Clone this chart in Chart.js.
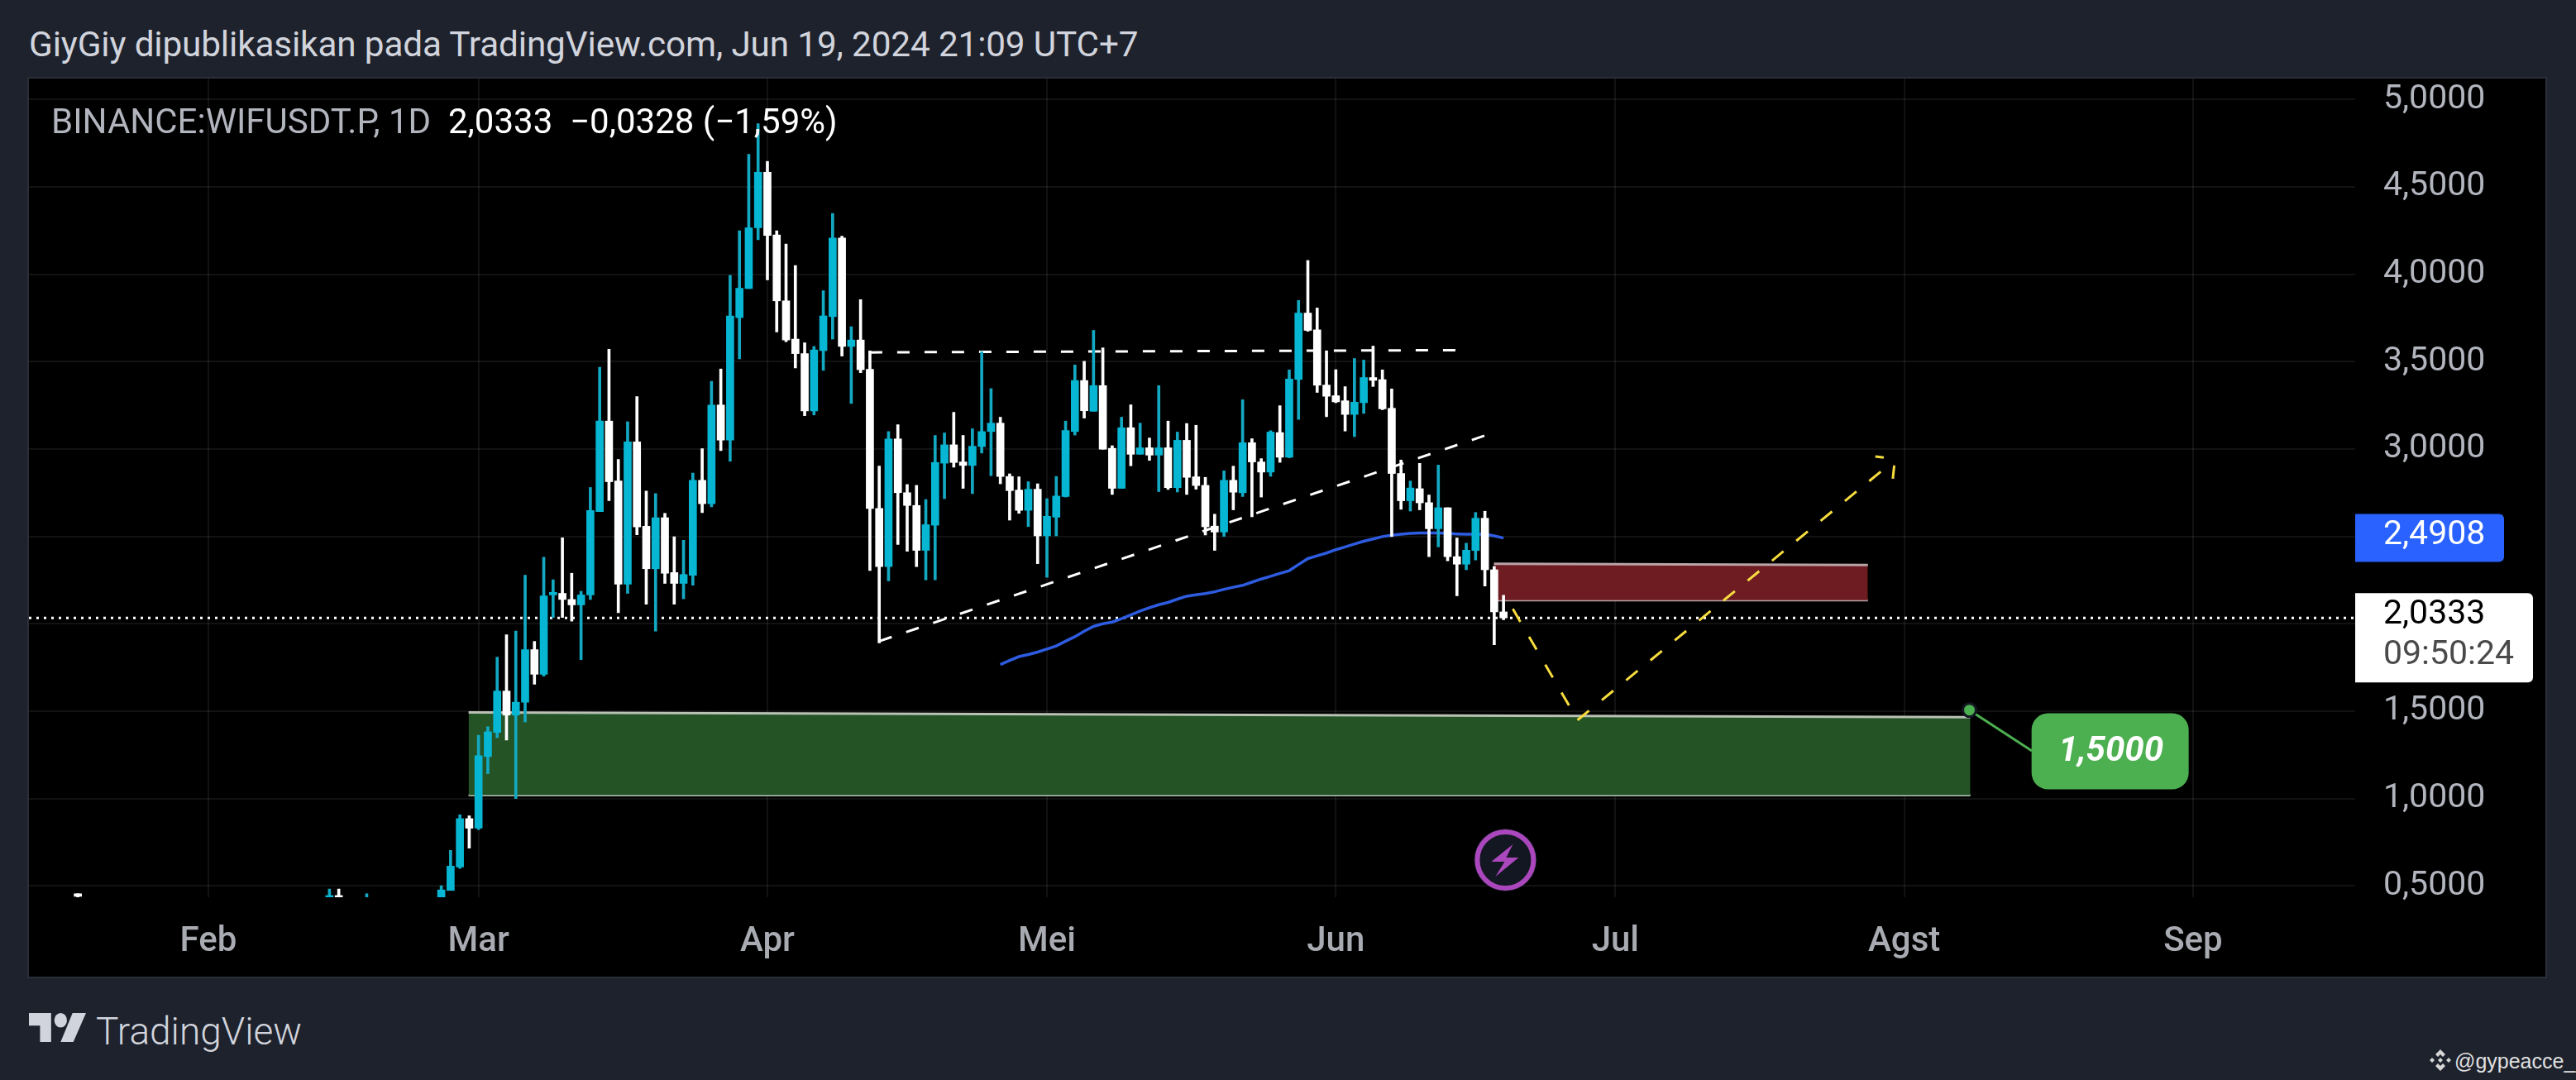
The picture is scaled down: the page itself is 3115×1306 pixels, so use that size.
<!DOCTYPE html>
<html>
<head>
<meta charset="utf-8">
<title>WIFUSDT.P</title>
<script src="https://cdn.jsdelivr.net/npm/chart.js@4/dist/chart.umd.js"></script>
<style>
  html, body { margin: 0; padding: 0; background: #1e222d; width: 3115px; height: 1306px; overflow: hidden; font-family: Roboto, sans-serif; }
  .abs { position: absolute; white-space: pre; }
  #panel { position: absolute; left: 33px; top: 93px; width: 3043px; height: 1086px; border: 2px solid #2a2e39; background: #000; }
  #chart { display: block; }
  #title { left: 35px; top: 30px; font-size: 42.3px; line-height: 48px; color: #d1d4dc; letter-spacing: -0.15px; }
  #legend { left: 62px; top: 123px; font-size: 42px; line-height: 48px; color: #b2b5be; }
  #legend b { font-weight: 400; color: #fff; }
  #tvlogo { left: 35px; top: 1225px; }
  #tvtext { left: 116px; top: 1219px; font-size: 46px; line-height: 56px; color: #d1d4dc; font-weight: 300; }
  #bnb { left: 2937px; top: 1268px; }
  #handle { left: 2968px; top: 1266px; font-family: "Liberation Sans", sans-serif; font-size: 25px; line-height: 34px; color: #e0e0e0; }
</style>
</head>
<body>
<div class="abs" id="title">GiyGiy dipublikasikan pada TradingView.com, Jun 19, 2024 21:09 UTC+7</div>
<div id="panel"><canvas id="chart" width="3043" height="1086"></canvas></div>
<div class="abs" id="legend">BINANCE:WIFUSDT.P, 1D  <b>2,0333  −0,0328 (−1,59%)</b></div>
<svg class="abs" id="tvlogo" width="69" height="35" viewBox="0 6 36 16" preserveAspectRatio="none"><path fill="#d1d4dc" d="M14 6H0v7h7v9h7V6zM28 22h-8l7.5-16H36l-8 16z"/><circle fill="#d1d4dc" cx="20" cy="10" r="4"/></svg>
<div class="abs" id="tvtext">TradingView</div>
<svg class="abs" id="bnb" width="28" height="28" viewBox="0 0 28 28"><path fill="#d6d6d6" d="M14 1l6 6-3 3-3-3-3 3-3-3zM14 27l-6-6 3-3 3 3 3-3 3 3zM4 11l3 3-3 3-3-3zM24 11l3 3-3 3-3-3zM14 11l3 3-3 3-3-3z"/></svg>
<div class="abs" id="handle">@gypeacce_</div>

<script>
// All x values are days counted from 1 Jan 2024 (0 = Jan 1, 170 = Jun 19)
var xTicks = [31, 60, 91, 121, 152, 182, 213, 244];
var xTickLabels = ['Feb', 'Mar', 'Apr', 'Mei', 'Jun', 'Jul', 'Agst', 'Sep'];
var yTicks = [0.5, 1, 1.5, 2, 2.5, 3, 3.5, 4, 4.5, 5];
var yTickLabels = ['0,5000', '1,0000', '1,5000', '', '', '3,0000', '3,5000', '4,0000', '4,5000', '5,0000'];
var xMin = 11.75, xMax = 261.4;
var yMin = 0.435, yMax = 5.12;

var candleDays = [17,44,45,48,
  56,57,58,59,60,61,62,63,64,65,
  66,67,68,69,70,71,72,73,74,75,
  76,77,78,79,80,81,82,83,84,85,
  86,87,88,89,90,91,92,93,94,95,
  96,97,98,99,100,101,102,103,104,105,
  106,107,108,109,110,111,112,113,114,115,
  116,117,118,119,120,121,122,123,124,125,
  126,127,128,129,130,131,132,133,134,135,
  136,137,138,139,140,141,142,143,144,145,
  146,147,148,149,150,151,152,153,154,155,
  156,157,158,159,160,161,162,163,164,165,
  166,167,168,169,170];
var opens = [.455,.43,.445,.43,
  .43,.474,.608,.885,.83,1.24,1.378,1.615,1.477,1.551,
  1.852,1.711,2.165,2.174,2.139,2.108,2.165,2.642,3.16,2.817,
  2.227,3.041,2.558,2.315,2.607,2.293,2.231,2.278,2.821,2.687,
  3.252,3.051,3.752,3.918,4.266,4.584,4.225,3.848,3.629,3.546,
  3.218,3.563,3.758,4.208,3.587,3.624,3.456,2.66,2.327,3.058,
  2.75,2.677,2.42,2.564,2.919,3.024,2.926,2.906,3.014,3.1,
  3.148,2.843,2.765,2.649,2.77,2.503,2.61,2.728,3.1,3.392,
  3.216,3.363,3.004,2.775,3.122,2.97,3.007,2.965,3.007,2.779,
  3.05,2.841,2.792,2.559,2.525,2.821,2.75,3.036,2.926,2.868,
  3.094,2.953,3.398,3.778,3.682,3.366,3.305,3.276,3.198,3.265,
  3.409,3.397,3.233,2.86,2.704,2.773,2.693,2.544,2.664,2.384,
  2.341,2.419,2.604,2.309,2.068];
var highs = [.455,.482,.482,.455,
  .501,.703,.907,.901,1.362,1.411,1.809,1.937,1.959,2.278,
  1.899,2.381,2.252,2.492,2.289,2.186,2.78,3.468,3.571,2.94,
  3.156,3.3,2.759,2.745,2.632,2.498,2.478,2.862,3.002,3.388,
  3.458,3.994,4.249,4.687,4.862,4.646,4.249,4.173,4.05,3.608,
  3.587,3.906,4.348,4.218,3.7,3.855,3.562,2.902,3.1,3.139,
  2.797,2.792,2.711,3.078,3.092,3.21,3.078,3.116,3.557,3.346,
  3.182,2.858,2.841,2.813,2.801,2.716,2.843,3.16,3.481,3.502,
  3.679,3.579,3.019,3.182,3.253,3.148,3.063,3.363,3.16,3.097,
  3.146,3.136,2.838,2.627,2.875,2.902,3.282,3.059,2.945,3.105,
  3.248,3.453,3.85,4.079,3.807,3.562,3.454,3.357,3.518,3.509,
  3.589,3.453,3.344,2.937,2.817,2.918,2.737,2.908,2.664,2.491,
  2.461,2.637,2.644,2.328,2.163];
var lows = [.435,.43,.43,.43,
  .43,.474,.6,.716,.822,1.142,1.348,1.335,1.0,1.438,
  1.654,1.7,2.036,2.036,2.015,1.795,2.139,2.642,2.704,2.063,
  2.174,2.509,2.112,1.958,2.231,2.112,2.143,2.221,2.636,2.669,
  2.991,2.93,3.516,3.918,4.198,3.968,3.67,3.614,3.464,3.191,
  3.195,3.45,3.629,3.532,3.261,3.437,2.305,1.89,2.246,2.454,
  2.415,2.327,2.251,2.251,2.716,2.896,2.775,2.745,2.977,2.847,
  2.801,2.593,2.632,2.556,2.344,2.266,2.503,2.725,3.08,3.177,
  3.216,2.999,2.74,2.775,2.904,2.97,2.935,2.757,2.769,2.754,
  2.74,2.77,2.508,2.42,2.5,2.652,2.728,2.612,2.725,2.844,
  2.924,2.95,3.169,3.674,3.324,3.185,3.265,3.103,3.071,3.204,
  3.358,3.225,2.499,2.655,2.645,2.652,2.384,2.44,2.36,2.16,
  2.309,2.365,2.216,1.88,2.023];
var closes = [.44,.445,.43,.432,
  .477,.613,.885,.83,1.245,1.382,1.615,1.477,1.551,1.852,
  1.711,2.16,2.18,2.139,2.108,2.165,2.648,3.16,2.813,2.227,
  3.041,2.554,2.315,2.607,2.289,2.231,2.282,2.821,2.687,3.252,
  3.051,3.762,3.92,4.266,4.584,4.222,3.848,3.624,3.546,3.218,
  3.567,3.762,4.208,3.587,3.624,3.454,2.66,2.327,3.058,2.75,
  2.677,2.42,2.567,2.923,3.024,2.923,2.906,3.016,3.1,3.148,
  2.843,2.762,2.649,2.77,2.503,2.615,2.731,3.106,3.392,3.219,
  3.363,2.999,2.775,3.122,2.97,3.007,2.965,3.007,2.779,3.05,
  2.838,2.791,2.555,2.525,2.821,2.753,3.036,2.926,2.868,3.097,
  2.953,3.401,3.778,3.679,3.365,3.302,3.27,3.198,3.268,3.409,
  3.393,3.23,2.86,2.704,2.777,2.692,2.544,2.664,2.384,2.341,
  2.421,2.604,2.309,2.068,2.0333];

// blue moving average, one value per day from maStartDay
var maStartDay = 116;
var maValues = [1.767,1.79,1.812,1.824,1.838,1.855,1.873,1.9,1.926,1.958,
  1.985,2.0,2.01,2.029,2.051,2.073,2.092,2.109,2.122,2.141,
  2.158,2.166,2.173,2.183,2.197,2.209,2.22,2.238,2.256,2.272,
  2.288,2.304,2.339,2.373,2.389,2.405,2.424,2.44,2.456,2.472,
  2.485,2.499,2.507,2.512,2.517,2.52,2.52,2.52,2.517,2.514,
  2.512,2.512,2.512,2.503,2.4908];

var lastPrice = 2.0333;
var lastPriceLabel = '2,0333';
var countdownLabel = '09:50:24';
var maLabel = '2,4908';

// drawings, [day, price] pairs
var topLine = [[102, 3.553], [164.95, 3.566]];
var riseLine = [[103, 1.9], [168.05, 3.078]];
var dropLeg = [[171, 2.085], [177.94, 1.449]];
var riseLeg = [[177.94, 1.449], [210.9, 2.889]];
var arrowBarbA = [[209.9, 2.957], [210.8, 2.951]];
var arrowBarbB = [[211.93, 2.906], [211.78, 2.83]];
var redTop = [[168.97, 2.343], [209.1, 2.336]];
var redBottom = [[168.97, 2.135], [209.1, 2.135]];
var greenTop = [[58.93, 1.493], [220.1, 1.466]];
var greenBottom = [[58.93, 1.019], [220.1, 1.019]];
var calloutLine = [[220, 1.506], [226.7, 1.273]];
var calloutCenter = [235.1, 1.27];
var calloutLabel = '1,5000';
var boltAnchor = [170.2, 0.648];

function pts(pairs) {
  return pairs.map(function(p){ return {x: p[0], y: p[1]}; });
}

function lineSet(pairs, color, width, dash, order, extra) {
  var ds = {
    type: 'line',
    data: pts(pairs),
    borderColor: color,
    borderWidth: width,
    borderDash: dash || [],
    pointRadius: 0,
    tension: 0,
    fill: false,
    order: order
  };
  for (var k in extra) ds[k] = extra[k];
  return ds;
}

var TEAL = '#06b6d2', TEAL_WICK = '#14a9c2', WHITE = '#ffffff';

var wicks = candleDays.map(function(d, i){ return {x: d, y: [lows[i], highs[i]]}; });
var bodies = candleDays.map(function(d, i){ return {x: d, y: [opens[i], closes[i]]}; });
var isUp = candleDays.map(function(d, i){ return closes[i] >= opens[i]; });
var maLine = maValues.map(function(v, i){ return [maStartDay + i, v]; });

// labels and icons that are not part of the library's datasets
var overlay = {
  id: 'overlay',
  afterDraw: function(chart) {
    var c = chart.ctx, sx = chart.scales.x, sy = chart.scales.y;
    var axisLeft = sx.right;
    c.save();
    c.textBaseline = 'middle';
    c.textAlign = 'left';

    // blue MA tag
    var my = sy.getPixelForValue(maValues[maValues.length - 1]);
    c.fillStyle = '#2962ff';
    c.beginPath();
    c.roundRect(axisLeft, my - 29, 180, 58, [0, 6, 6, 0]);
    c.fill();
    c.fillStyle = '#fff';
    c.font = '41px Roboto';
    c.fillText(maLabel, axisLeft + 34, my - 3);

    // last price tag with countdown
    var py = sy.getPixelForValue(lastPrice);
    c.fillStyle = '#fff';
    c.beginPath();
    c.roundRect(axisLeft, py - 30, 215, 108, [0, 6, 6, 0]);
    c.fill();
    c.fillStyle = '#000';
    c.fillText(lastPriceLabel, axisLeft + 34, py - 4);
    c.fillStyle = '#4a4a4a';
    c.fillText(countdownLabel, axisLeft + 34, py + 45);

    // callout anchor dot (a dataset point this big would make the chart pad its area)
    var ax = sx.getPixelForValue(calloutLine[0][0]), ay = sy.getPixelForValue(calloutLine[0][1]);
    c.beginPath();
    c.arc(ax, ay, 8, 0, Math.PI * 2);
    c.fillStyle = '#4caf50';
    c.fill();
    c.lineWidth = 3;
    c.strokeStyle = '#131722';
    c.stroke();

    // green callout
    var cx = sx.getPixelForValue(calloutCenter[0]), cy = sy.getPixelForValue(calloutCenter[1]);
    c.fillStyle = '#4caf50';
    c.beginPath();
    c.roundRect(cx - 95, cy - 46, 190, 92, 20);
    c.fill();
    c.fillStyle = '#fff';
    c.textAlign = 'center';
    c.font = 'italic 700 42px Roboto';
    c.fillText(calloutLabel, cx + 1, cy + 1);

    // lightning marker
    var bx = sx.getPixelForValue(boltAnchor[0]), by = sy.getPixelForValue(boltAnchor[1]);
    c.beginPath();
    c.arc(bx, by, 38, 0, Math.PI * 2);
    c.fillStyle = '#131722';
    c.fill();
    c.beginPath();
    c.arc(bx, by, 34, 0, Math.PI * 2);
    c.lineWidth = 6;
    c.strokeStyle = '#ab47bc';
    c.stroke();
    c.beginPath();
    c.moveTo(bx + 9, by - 19);
    c.lineTo(bx - 17, by + 2);
    c.lineTo(bx - 1, by + 2);
    c.lineTo(bx - 12, by + 20);
    c.lineTo(bx + 16, by - 3);
    c.lineTo(bx + 1, by - 3);
    c.closePath();
    c.fillStyle = '#ab47bc';
    c.fill();
    c.restore();
  }
};

var datasets = [
  // boxes: top edge fills down to the next dataset (its bottom edge)
  lineSet(greenTop, '#b9c2b5', 3, [], 9, {fill: '+1', backgroundColor: '#245326'}),
  lineSet(greenBottom, '#b9c2b5', 3, [], 9),
  lineSet(redTop, '#b9a4a6', 3, [], 8, {fill: '+1', backgroundColor: '#6e1b22'}),
  lineSet(redBottom, '#b9a4a6', 3, [], 8),
  lineSet([[xMin, lastPrice], [xMax, lastPrice]], '#ffffff', 3, [3, 6], 7),
  lineSet(maLine, '#2d5ce0', 3.5, [], 6),
  lineSet(topLine, '#ffffff', 3, [15, 18], 5),
  lineSet(riseLine, '#ffffff', 3, [16, 18.4], 5),
  {
    type: 'bar',
    data: wicks,
    backgroundColor: isUp.map(function(u){ return u ? TEAL_WICK : WHITE; }),
    barThickness: 3,
    grouped: false,
    order: 4
  },
  {
    type: 'bar',
    data: bodies,
    backgroundColor: isUp.map(function(u){ return u ? TEAL : WHITE; }),
    barThickness: 9,
    grouped: false,
    order: 3
  },
  lineSet(dropLeg, '#f7dc3e', 3, [18, 21], 2),
  lineSet(riseLeg, '#f7dc3e', 3, [18, 20], 2),
  lineSet(arrowBarbA, '#f7dc3e', 3, [], 2),
  lineSet(arrowBarbB, '#f7dc3e', 3, [], 2),
  lineSet(calloutLine, '#4caf50', 3, [], 1)
];

// the axes must not reserve room for half a tick label at their ends
function noPadding(s) {
  s.paddingTop = s.paddingBottom = s.paddingLeft = s.paddingRight = 0;
}

new Chart(document.getElementById('chart').getContext('2d'), {
  data: { datasets: datasets },
  plugins: [overlay],
  options: {
    responsive: false,
    animation: false,
    devicePixelRatio: 1,
    parsing: { xAxisKey: 'x', yAxisKey: 'y' },
    layout: { padding: 0 },
    plugins: { legend: { display: false }, tooltip: { enabled: false } },
    scales: {
      x: {
        type: 'linear',
        min: xMin,
        max: xMax,
        offset: false,
        afterBuildTicks: function(s){ s.ticks = xTicks.map(function(v){ return {value: v}; }); },
        afterFit: function(s){ s.height = 96; noPadding(s); },
        grid: { color: 'rgba(255,255,255,0.07)', lineWidth: 2, drawTicks: false, offset: false },
        border: { display: false },
        ticks: {
          autoSkip: false,
          maxRotation: 0,
          padding: 29,
          color: '#a9abb2',
          font: { family: 'Roboto', size: 42, weight: '500' },
          callback: function(v){ return xTickLabels[xTicks.indexOf(v)]; }
        }
      },
      y: {
        type: 'linear',
        position: 'right',
        min: yMin,
        max: yMax,
        afterBuildTicks: function(s){ s.ticks = yTicks.map(function(v){ return {value: v}; }); },
        afterFit: function(s){ s.width = 230; noPadding(s); },
        grid: { color: 'rgba(255,255,255,0.07)', lineWidth: 2, drawTicks: false },
        border: { display: false },
        ticks: {
          autoSkip: false,
          padding: 34,
          color: '#b2b5be',
          font: { family: 'Roboto', size: 41 },
          callback: function(v){ return yTickLabels[yTicks.indexOf(v)]; }
        }
      }
    }
  }
});
</script>
</body>
</html>
